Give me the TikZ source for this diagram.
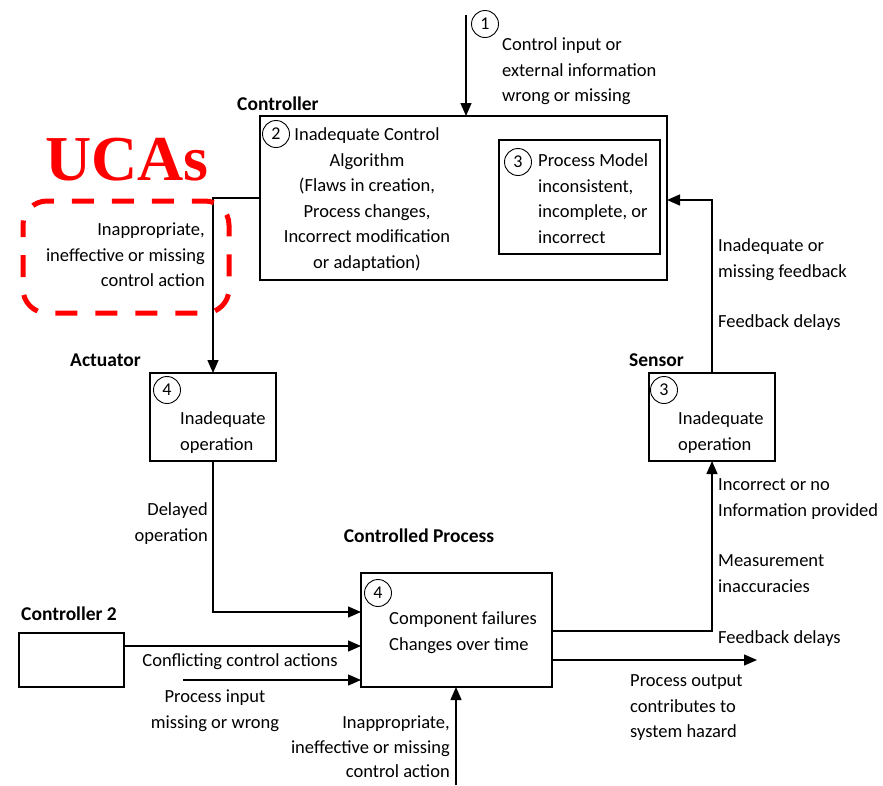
\documentclass[tikz,border=0pt]{standalone}
\usepackage{fontspec}
\setmainfont{Carlito}
\newfontfamily\ucafont{Liberation Serif}
\usetikzlibrary{arrows.meta}
\begin{document}
\begin{tikzpicture}[x=1pt,y=-1pt,
  txt/.style={inner sep=0pt, font=\fontsize{18.5}{25.6}\selectfont},
  hdr/.style={inner sep=0pt, font=\fontsize{19.5}{25.6}\selectfont\bfseries},
  blk/.style={draw, line width=1.2pt, inner sep=0pt, outer sep=0pt},
  num/.style={draw, circle, line width=0.9pt, minimum size=27pt, inner sep=0pt,
    font=\fontsize{18}{20}\selectfont},
  arr/.style={line width=1.4pt, -{Triangle[length=13pt,width=11pt]}}]
\useasboundingbox (0,0) rectangle (883,785);

% blocks
\node[blk, minimum width=407pt, minimum height=164pt] (ctrl) at (463.5,198) {};
\node[blk, minimum width=161pt, minimum height=114pt] (pm) at (579.5,197) {};
\node[blk, minimum width=126pt, minimum height=88pt] (act) at (213,417) {};
\node[blk, minimum width=126pt, minimum height=88pt] (sens) at (712,417) {};
\node[blk, minimum width=191pt, minimum height=114pt] (proc) at (456.5,630) {};
\node[blk, minimum width=105pt, minimum height=54pt] (ctrltwo) at (71.5,660) {};

% block titles
\node[hdr, anchor=base west] (lctrl) at (237,110) {Controller};
\node[hdr, anchor=base west] (lact) at (70,366) {Actuator};
\node[hdr, anchor=base west] (lsens) at (629,366) {Sensor};
\node[hdr, anchor=base] (lproc) at (419,542) {Controlled Process};
\node[hdr, anchor=base west] (lctrltwo) at (21,620) {Controller 2};

% numbered markers
\node[num] (n1) at (485,24) {1};
\node[num] (n2) at (276,134) {2};
\node[num] (n3a) at (518,162) {3};
\node[num] (n3b) at (664,390) {3};
\node[num] (n4a) at (167,390) {4};
\node[num] (n4b) at (378,593) {4};

% texts inside blocks
\node[txt, anchor=north, align=center] (tctrl) at (367,127.5)
  {Inadequate Control\\Algorithm\\(Flaws in creation,\\Process changes,\\Incorrect modification\\or adaptation)};
\node[txt, anchor=north west, align=left] (tpm) at (538,153.5)
  {Process Model\\inconsistent,\\incomplete, or\\incorrect};
\node[txt, anchor=north west, align=left] (tact) at (180,411.5) {Inadequate\\operation};
\node[txt, anchor=north west, align=left] (tsens) at (678,411.5) {Inadequate\\operation};
\node[txt, anchor=north west, align=left] (tproc) at (389,611.5) {Component failures\\Changes over time};

% connectors
\coordinate (in1) at (466,15);
\draw[arr] (in1) -- (in1 |- ctrl.north);
\draw[arr] (ctrl.west |- 0,198) -| (act.north);
\draw[arr] (act.south) |- (proc.west |- 0,612);
\draw[arr] (ctrltwo.east |- 0,646) -- (proc.west |- 0,646);
\coordinate (pin) at (183,680);
\draw[arr] (pin) -- (proc.west |- pin);
\coordinate (cabot) at (456,785);
\draw[arr] (cabot) -- (cabot |- proc.south);
\draw[arr] (proc.east |- 0,631) -| (sens.south);
\coordinate (pout) at (757,660);
\draw[arr] (proc.east |- pout) -- (pout);
\draw[arr] (sens.north) |- (ctrl.east |- 0,200);

% connector labels
\node[txt, anchor=north west, align=left] (l1) at (502,37.5)
  {Control input or\\external information\\wrong or missing};
\node[txt, anchor=north west, align=left] (lfb) at (718,238.5)
  {Inadequate or\\missing feedback};
\node[txt, anchor=base west] (lfbd) at (718,327) {Feedback delays};
\node[txt, anchor=north west, align=left] (linc) at (718,478.5)
  {Incorrect or no\\Information provided};
\node[txt, anchor=north west, align=left] (lmeas) at (718,554.5)
  {Measurement\\inaccuracies};
\node[txt, anchor=base west] (lfbd2) at (718,643) {Feedback delays};
\node[txt, anchor=north west, align=left] (lout) at (630,674.5)
  {Process output\\contributes to\\system hazard};
\node[txt, anchor=north east, align=right] (ldel) at (208,502.5) {Delayed\\operation};
\node[txt, anchor=north, align=center] (lconf) at (240,653.5) {Conflicting control actions};
\node[txt, anchor=north, align=center] (lpin) at (215,689.5) {Process input\\missing or wrong};
\node[txt, anchor=north east, align=right, font=\fontsize{18.5}{24.5}\selectfont] (lca) at (450,716)
  {Inappropriate,\\ineffective or missing\\control action};

% unsafe control actions callout
\node[inner sep=0pt, anchor=base west, text=red, font=\ucafont\fontsize{64}{64}\selectfont\bfseries]
  (uca) at (45,180) {UCAs};
\draw[red, line width=5pt, dash pattern=on 22pt off 18pt, dash phase=10pt, rounded corners=24pt]
  (23,201) rectangle (229,313);
\node[txt, anchor=north east, align=right] (luca) at (205,222.5)
  {Inappropriate,\\ineffective or missing\\control action};
\end{tikzpicture}
\end{document}
